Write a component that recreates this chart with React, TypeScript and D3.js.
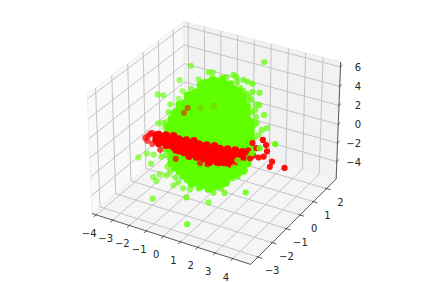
import React from "react";
import * as d3 from "d3";

type Triple = [number, number, number];
type Column = [number, number, number[]];

const xTicks = [-4, -3, -2, -1, 0, 1, 2, 3, 4];
const yTicks = [-3, -2, -1, 0, 1, 2];
const zTicks = [-4, -2, 0, 2, 4, 6];
const xLim = [-4.25, 5.0];
const yLim = [-3.5, 2.75];
const zLim = [-5.9, 6.5];

// dense part of the green cloud above the red band: [x, y, [z...]]
const greenUpper: Column[] = [
  [-3.74, 1, [-2.4, -3, -3.6]],
  [-3.07, 0.5, [-0.6, -1.2, -1.8, -2.4]],
  [-3.24, 1, [-0.6, -1.2, -1.8, -2.4, -3, -3.6]],
  [-2.57, 0.5, [1.2, 0.6, 0, -0.6, -1.2, -1.8, -2.4]],
  [-2.74, 1, [0.6, 0, -0.6, -1.2, -1.8, -2.4, -3, -3.6]],
  [-2.07, 0.5, [2.4, 1.8, 1.2, 0.6, 0, -0.6, -1.2, -1.8, -2.4]],
  [-2.24, 1, [1.8, 1.2, 0.6, 0, -0.6, -1.2, -1.8, -2.4, -3, -3.6]],
  [-1.56, 0.5, [3, 2.4, 1.8, 1.2, 0.6, 0, -0.6, -1.2, -1.8, -2.4]],
  [-1.73, 1, [3, 2.4, 1.8, 1.2, 0.6, 0, -0.6, -1.2, -1.8, -2.4, -3, -3.6]],
  [-1.06, 0.5, [4.2, 3.6, 3, 2.4, 1.8, 1.2, 0.6, 0, -0.6, -1.2, -1.8, -2.4]],
  [-1.23, 1, [3.6, 3, 2.4, 1.8, 1.2, 0.6, 0, -0.6, -1.2, -1.8, -2.4, -3, -3.6]],
  [-0.56, 0.5, [4.8, 4.2, 3.6, 3, 2.4, 1.8, 1.2, 0.6, 0, -0.6, -1.2, -1.8, -2.4]],
  [-0.73, 1, [3.9, 3.3, 2.7, 2.1, 1.5, 0.9, 0.3, -0.3, -0.9, -1.5, -2.1, -2.7, -3.3]],
  [-0.06, 0.5, [4.8, 4.2, 3.6, 3, 2.4, 1.8, 1.2, 0.6, 0, -0.6, -1.2, -1.8, -2.4]],
  [-0.22, 1, [3.9, 3.3, 2.7, 2.1, 1.5, 0.9, 0.3, -0.3, -0.9, -1.5, -2.1, -2.7, -3.3]],
  [0.45, 0.5, [4.7, 4.2, 3.6, 3, 2.4, 1.8, 1.2, 0.6, 0, -0.6, -1.2, -1.8, -2.4]],
  [0.28, 1, [3.6, 3, 2.4, 1.8, 1.2, 0.6, 0, -0.6, -1.2, -1.8, -2.4, -3]],
  [0.95, 0.5, [4.2, 3.6, 3, 2.4, 1.8, 1.2, 0.6, 0, -0.6, -1.2, -1.8, -2.4]],
  [0.78, 1, [3, 2.4, 1.8, 1.2, 0.6, 0, -0.6, -1.2, -1.8, -2.4, -3]],
  [1.45, 0.5, [3, 2.4, 1.8, 1.2, 0.6, 0, -0.6, -1.2, -1.8, -2.4]],
  [1.28, 1, [0.6, 0, -0.6, -1.2, -1.8, -2.4, -3]],
];

// dense part below the red band
const greenLower: Column[] = [
  [-2.04, -1, [-0.6, -1.2]],
  [-2.21, -0.5, [-1.2, -1.8, -2.4, -3, -3.6]],
  [-1.54, -1, [-0.6, -1.2, -1.8, -2.4, -3]],
  [-1.71, -0.5, [-1.2, -1.8, -2.4, -3, -3.6, -4.2]],
  [-1.04, -1, [-0.6, -1.2, -1.8, -2.4, -3, -3.6]],
  [-1.21, -0.5, [-1.2, -1.8, -2.4, -3, -3.6, -4.2, -4.8]],
  [-0.54, -1, [-0.6, -1.2, -1.8, -2.4, -3, -3.6, -4.2]],
  [-0.7, -0.5, [-1.2, -1.8, -2.4, -3, -3.6, -4.2, -4.8]],
  [-0.03, -1, [-0.6, -1.2, -1.8, -2.4, -3, -3.6, -4.2]],
  [-0.2, -0.5, [-1.2, -1.8, -2.4, -3, -3.6, -4.2, -4.8]],
  [0.47, -1, [-0.6, -1.2, -1.8, -2.4, -3, -3.6, -4.2]],
  [0.3, -0.5, [-1.2, -1.8, -2.4, -3, -3.6, -4.2, -4.8]],
  [0.97, -1, [-0.6, -1.2, -1.8, -2.4, -3, -3.6]],
  [0.8, -0.5, [-1.2, -1.8, -2.4, -3, -3.6, -4.2]],
  [1.48, -1, [-0.6, -1.2, -1.8, -2.4, -3]],
  [1.31, -0.5, [-1.2, -1.8, -2.4, -3]],
  [1.98, -1, [0, -0.6, -1.2, -1.8]],
  [1.81, -0.5, [-1.2, -1.8, -2.4]],
  [2.48, -1, [0, -0.6, -1.2]],
  [2.31, -0.5, [-0.6, -1.2]],
];

// loose green points around the cloud
const greenOuter: Triple[] = [
  [1.36, 1.8, 5.94], [-2.29, 1, 4.8], [-1.23, 1, 4.61], [-1, 1, 4.73], [-0.42, 1, 4.4], [-0.18, 1, 4.62],
  [0.23, 1, 5.04], [0.4, 1, 4.92], [-2.99, 1, 2.96], [-1.82, 1, 3.57], [-1.41, 1, 3.46], [-0.88, 1, 3.75],
  [0.46, 1, 4.43], [0.81, 1, 4.82], [1.05, 1, 4.73], [1.34, 1, 4.67], [0.81, 1, 3.66], [1.34, 1, 3.83],
  [1.75, 1, 3.94], [-2.81, 1, 1.89], [-2.29, 1, 2.38], [1.16, 1, 3.21], [0.99, 1, 2.59], [1.57, 1, 2.58],
  [1.75, 1, 2.67], [1.34, 1, 1.73], [2.04, 1, 1.77], [1.57, 1, 1.32], [1.63, 1, 0.72], [1.92, 1, 0.13],
  [2.22, 1, 0.49], [-3.05, 1, 0.94], [-2.64, 1, 0.2], [1.46, 1, -0.95], [1.75, 1, -0.48],
  [-3.42, 0, 2.49], [-3.07, 0, 2.57], [-2.66, 0, 1.83], [-2.54, 0, 0.94], [-2.78, 0, 0.93],
  [-3.42, 0, -0.57], [-2.95, 0, -0.22], [-3.13, 0, -0.41],
  [-3.74, -1, -3.08], [-3.21, -1, -2.39], [-2.8, -1, -2.28], [-2.98, -1, -3.33], [-2.33, -1, -2.25],
  [-2.04, -1, -1.89], [-1.98, -1, -3.13], [-2.68, -1, -5.06], [-2.86, -1, -4.74], [-2.45, -1, -4.21],
  [-2.04, -1, -4.1], [-1.51, -1, -4.04], [-1.98, -2, -5.17], [-1.63, -1, -4.95], [-1.05, -1, -4.96],
  [0.04, -2, -3.92], [0.78, -2.8, -5.2], [-0.11, -1, -4.47], [0.36, -1, -4.02],
  [-2.05, 1, 2.1], [-1.58, 1, 2.84], [-1, 1, 4.1], [-0.47, 1, 4.37], [0.11, 1, 4.14], [0.64, 1, 3.88],
  [0.99, 1, 3.46], [1.28, 1, 2.96], [1.51, 1, 2], [-2.93, 1, 0.46], [-3.22, 1, -0.42], [-3.52, 1, -1.31],
  [-3.93, 1, -2.68], [1.46, 1, 0.42], [1.34, 1, -0.48],
  [-1.34, -1, -4.48], [-0.64, -1, -4.85], [0.77, -1, -4.44], [1.23, -1, -3.68], [2.17, -1, -1.94],
  [2.58, -1, -1.09], [-1.81, -1, -3.57],
];

// green points that sit on top of the red band, right side
const greenFront: Triple[] = [
  [4.27, -1, 2.52], [3.4, -1, 1.65], [2.99, -1, 0.91], [2.46, -1, -0.41], [1.94, -1, -1.1], [2.17, -1, -0.25],
  [1.58, -1, -2.4], [1.88, -1, -2.29], [1.58, -1, -2.77], [1.41, -1, -4.11], [2.64, -1, -3.38], [0.47, -1, -5.65],
];

// the red band: [x, y, [z...]]
const redBand: Column[] = [
  [-2.45, -1.2, [0.2, -0.25]],
  [-2.25, -1.25, [0.45, 0, -0.45]],
  [-2.05, -1.15, [0.25, -0.3]],
  [-1.85, -1.2, [0.55, 0, -0.5]],
  [-1.65, -1.25, [0.3, -0.3]],
  [-1.45, -1.15, [0.6, 0.05, -0.55]],
  [-1.25, -1.2, [0.35, -0.25, -0.7]],
  [-1.05, -1.25, [0.6, 0, -0.6]],
  [-0.85, -1.15, [0.3, -0.3, -0.8]],
  [-0.65, -1.2, [0.65, 0, -0.6]],
  [-0.45, -1.25, [0.35, -0.3, -0.85]],
  [-0.25, -1.15, [0.7, 0.05, -0.6]],
  [-0.05, -1.2, [0.4, -0.25, -0.8]],
  [0.15, -1.25, [0.7, 0.1, -0.5]],
  [0.35, -1.15, [0.45, -0.2, -0.8]],
  [0.55, -1.2, [0.75, 0.1, -0.55]],
  [0.75, -1.25, [0.45, -0.2, -0.85]],
  [0.95, -1.15, [0.8, 0.15, -0.5]],
  [1.15, -1.2, [0.55, -0.1, -0.7]],
  [1.35, -1.25, [0.85, 0.25, -0.35]],
  [1.55, -1.15, [0.6, 0, -0.6]],
  [1.75, -1.2, [0.95, 0.35, -0.25]],
  [1.95, -1.25, [0.7, 0.1, -0.4]],
  [2.15, -1.15, [1, 0.45]],
  [2.4, -1.2, [0.9, 0.3]],
  [2.65, -1.25, [1.2, 0.6]],
];

const redOuter: Triple[] = [
  [-3.1, -1.2, -0.39], [-2.92, -1.2, -0.08], [-2.81, -1.2, 0.18], [-2.69, -1.2, 0.35], [-2.98, -1.2, -0.64],
  [-2.69, -1.2, -0.81], [-2.22, -1.2, -1.2], [-1.29, -1.2, -1.66], [0.15, -1.2, -1.35], [0.58, -1.2, -1.23],
  [-0.82, -1.2, -0.68], [4.27, -1.2, 0.99], [4.15, -1.2, 0.4], [4.97, -1.2, 0.73], [3.92, -1.2, 2.5],
  [3.98, -1.2, 1.9], [3.8, -1.2, 1.27], [3.51, -1.2, 1.02], [3.74, -1.2, 2.93], [3.04, -1.2, 0.67],
  [2.16, -1.2, -0.3], [1.29, -1.2, -0.76], [3.16, -1.2, 2.32], [2.92, -1.2, 1.45], [3.22, -1.2, 1.08],
  [2.46, -1.2, 0.37], [2.75, -1.2, 1.05], [2.63, -1.2, 0.46], [3.39, -1.2, 1.91], [1.58, -1.2, -0.3],
  [1.93, -1.2, -0.1],
];

// red points seen through the green, the last two only just
const redBehind: Triple[] = [[-2.92, 1.2, -0.74], [-2.69, 1.2, -0.09]];
const redFaint: Triple[] = [[-1.9, 1.2, 0.3], [-1.1, 1.2, 0.9]];

const W = 423, H = 282;
const xBox = d3.scaleLinear().domain(xLim).range([-0.5, 0.5]);
const yBox = d3.scaleLinear().domain(yLim).range([-0.5, 0.5]);
const zBox = d3.scaleLinear().domain(zLim).range([-0.375, 0.375]);
const sxScale = d3.scaleLinear().domain([-1, 1]).range([216 - 182, 216 + 182]);
const syScale = d3.scaleLinear().domain([-1, 1]).range([138 + 182, 138 - 182]);
const shade = d3.scaleLinear().domain([-0.4, 0.4]).range([0.5, 1]).clamp(true);

// same camera as matplotlib's default: elev 30, azim -60, dist 10
function project(x: number, y: number, z: number) {
  const dx = xBox(x), dy = yBox(y), dz = zBox(z);
  const xv = 0.866 * dx + 0.5 * dy;
  const yv = -0.25 * dx + 0.433 * dy + 0.866 * dz;
  const zv = 0.433 * dx - 0.75 * dy + 0.5 * dz;
  const s = 10 / (10 - zv);
  return { px: sxScale(xv * s), py: syScale(yv * s), depth: zv };
}

const line3 = (pts: Triple[]) =>
  d3.line()(pts.map(p => { const q = project(p[0], p[1], p[2]); return [q.px, q.py] as [number, number]; })) as string;

const expand = (cols: Column[]): Triple[] =>
  cols.flatMap(c => c[2].map(z => [c[0], c[1], z] as Triple));

const GREEN = "#5fff00";
const RED = "#ff0000";

function Dots({ pts, color, faded, r = 3.1, alpha = 1 }: { pts: Triple[]; color: string; faded?: boolean; r?: number; alpha?: number }) {
  return (
    <g fill={color}>
      {pts.map((p, i) => {
        const q = project(p[0], p[1], p[2]);
        return <circle key={i} cx={q.px} cy={q.py} r={r} opacity={faded ? shade(q.depth) * alpha : alpha} />;
      })}
    </g>
  );
}

export default function App() {
  const [x0, x1] = xLim, [y0, y1] = yLim, [z0, z1] = zLim;
  const gridColor = "#c4c4c4";
  const tickLen = 0.025;
  const yr = y1 - y0, xr = x1 - x0;
  return (
    <svg width={W} height={H} style={{ position: "absolute", left: 0, top: 0 }} fontFamily="DejaVu Sans" fontSize={10}>
      <rect width={W} height={H} fill="#fff" />
      {/* panes */}
      <path d={line3([[x0, y0, z0], [x0, y1, z0], [x0, y1, z1], [x0, y0, z1], [x0, y0, z0]])} fill="#f9f9f9" stroke="#efefef" />
      <path d={line3([[x0, y1, z0], [x1, y1, z0], [x1, y1, z1], [x0, y1, z1], [x0, y1, z0]])} fill="#f2f2f2" stroke="#ebebeb" />
      <path d={line3([[x0, y0, z0], [x1, y0, z0], [x1, y1, z0], [x0, y1, z0], [x0, y0, z0]])} fill="#f5f5f5" stroke="#efefef" />
      {/* grid */}
      <g fill="none" stroke={gridColor} strokeWidth={1}>
        {xTicks.map(t => <path key={t} d={line3([[t, y0, z0], [t, y1, z0], [t, y1, z1]])} />)}
        {yTicks.map(t => <path key={t} d={line3([[x1, t, z0], [x0, t, z0], [x0, t, z1]])} />)}
        {zTicks.map(t => <path key={t} d={line3([[x0, y0, t], [x0, y1, t], [x1, y1, t]])} />)}
      </g>
      {/* axis lines and ticks */}
      <g fill="none" stroke="#333" strokeWidth={0.8}>
        <path d={line3([[x0, y0, z0], [x1, y0, z0]])} />
        <path d={line3([[x1, y0, z0], [x1, y1, z0]])} />
        <path d={line3([[x1, y1, z0], [x1, y1, z1]])} />
        {xTicks.map(t => <path key={t} d={line3([[t, y0 + tickLen * yr * 0.4, z0], [t, y0 - tickLen * yr, z0]])} />)}
        {yTicks.map(t => <path key={t} d={line3([[x1 - tickLen * xr * 0.4, t, z0], [x1 + tickLen * xr, t, z0]])} />)}
        {zTicks.map(t => <path key={t} d={line3([[x1, y1 - tickLen * yr * 0.4, t], [x1, y1 + tickLen * yr, t]])} />)}
      </g>
      {/* points */}
      <Dots pts={greenOuter} color={GREEN} faded />
      <Dots pts={expand(greenUpper)} color={GREEN} r={3.9} />
      <Dots pts={expand(greenLower)} color={GREEN} r={3.9} />
      <Dots pts={redBehind} color={RED} faded />
      <Dots pts={redFaint} color={RED} alpha={0.15} />
      <Dots pts={expand(redBand)} color={RED} r={3.9} />
      <Dots pts={redOuter} color={RED} faded />
      <Dots pts={greenFront} color={GREEN} faded />
      {/* tick labels */}
      <g fill="#262626" textAnchor="middle" dominantBaseline="middle">
        {xTicks.map(t => {
          const q = project(t, y0, z0);
          return <text key={t} x={q.px - 7} y={q.py + 19}>{d3.format("d")(t).replace("-", "\u2212")}</text>;
        })}
        {yTicks.map(t => {
          const q = project(x1, t, z0);
          return <text key={t} x={q.px + 14} y={q.py + 14}>{d3.format("d")(t).replace("-", "\u2212")}</text>;
        })}
      </g>
      <g fill="#262626" textAnchor="end" dominantBaseline="middle">
        {zTicks.map(t => {
          const q = project(x1, y1, t);
          return <text key={t} x={361} y={q.py + 1}>{d3.format("d")(t).replace("-", "\u2212")}</text>;
        })}
      </g>
    </svg>
  );
}
